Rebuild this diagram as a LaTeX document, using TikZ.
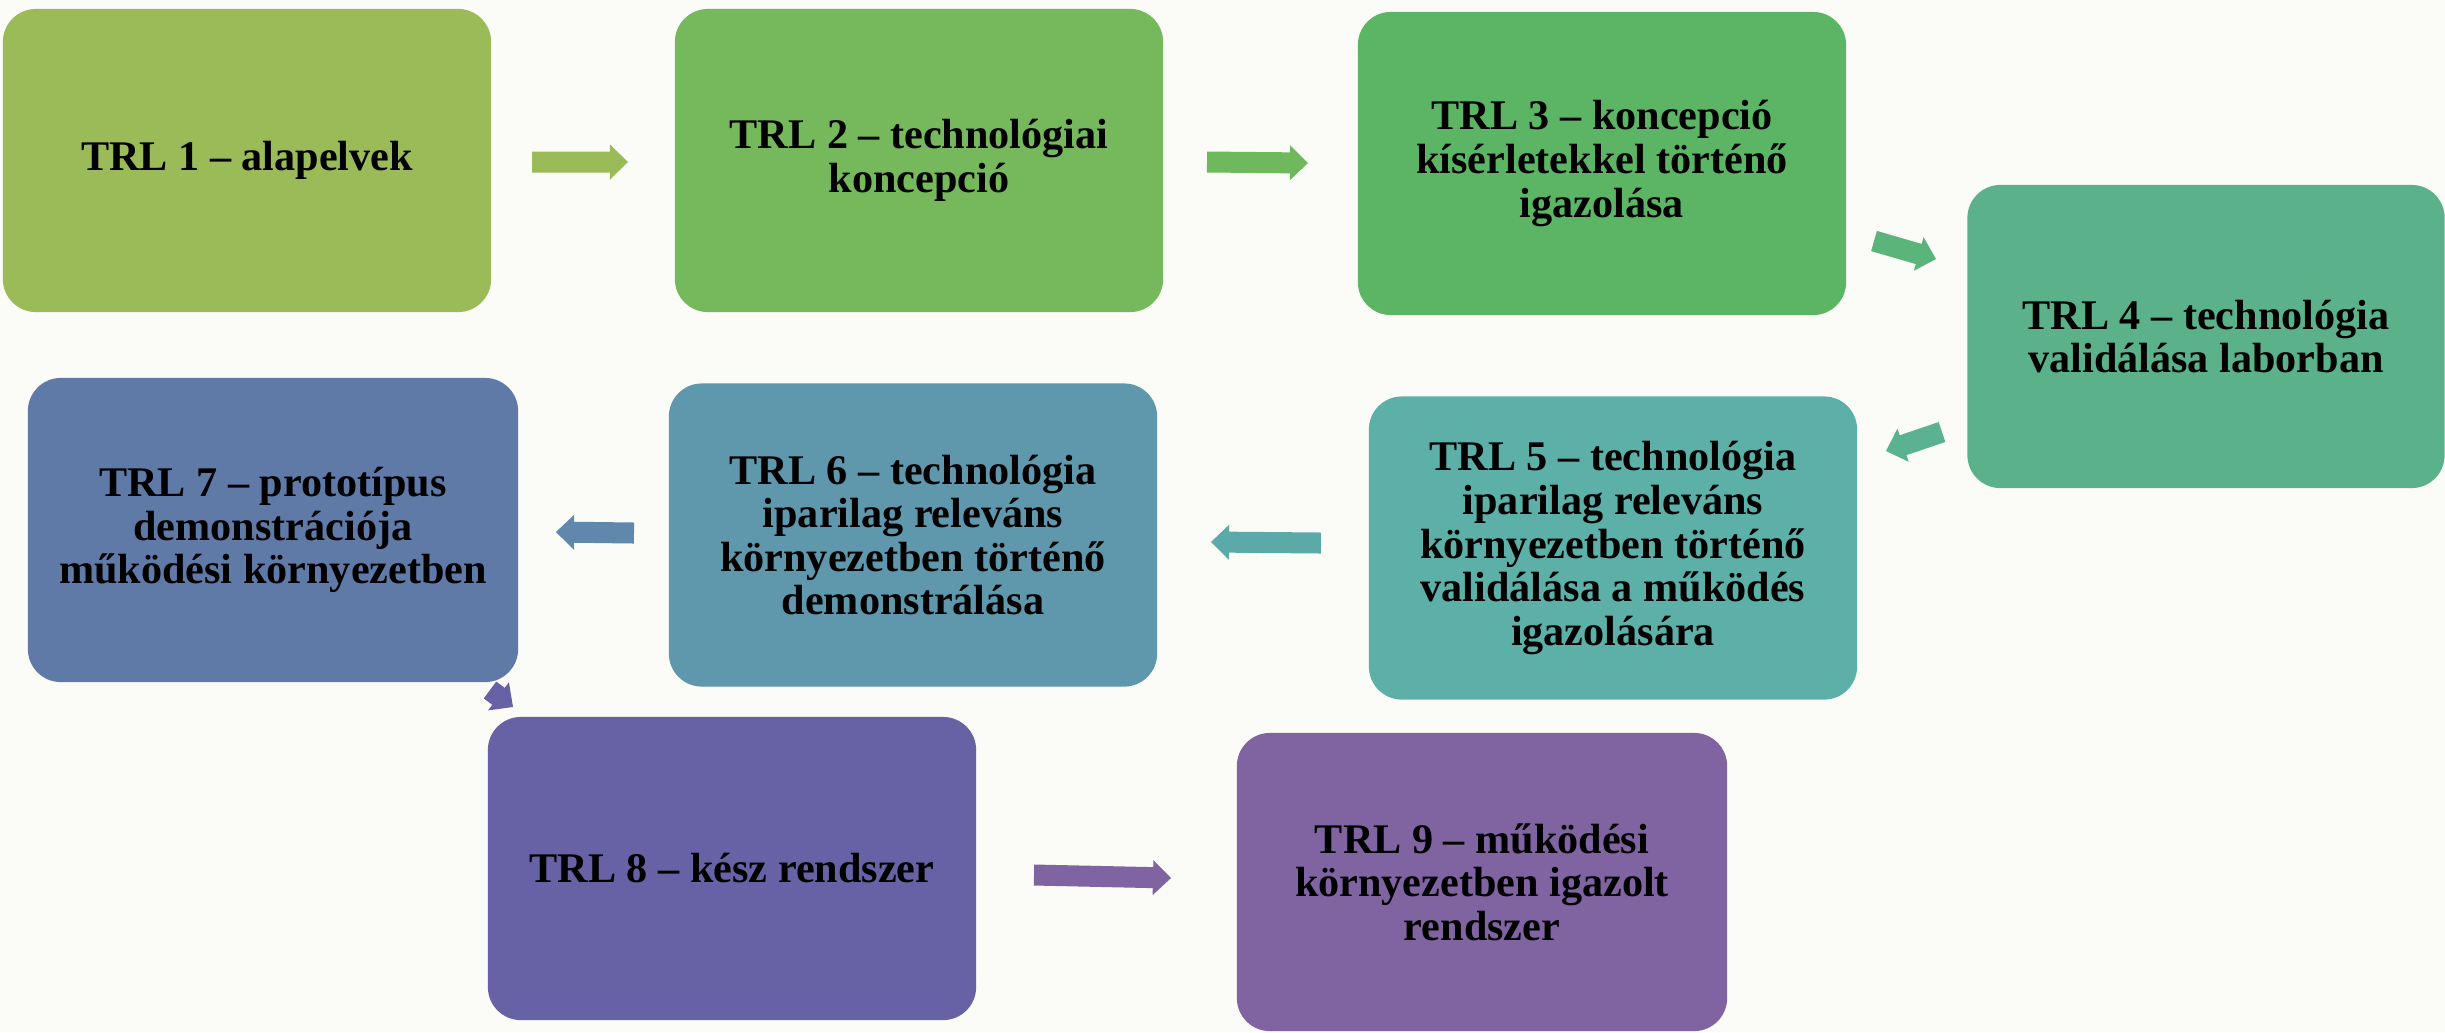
\documentclass[tikz,border=0pt]{standalone}
\usepackage{fontspec}
\setmainfont{Liberation Serif}
\usetikzlibrary{calc}
\definecolor{bg}{HTML}{FBFCF7}
\definecolor{c1}{HTML}{9BBB59}
\definecolor{c2}{HTML}{76B85C}
\definecolor{c3}{HTML}{5CB565}
\definecolor{c4}{HTML}{5BB28A}
\definecolor{c5}{HTML}{5CB0A8}
\definecolor{c6}{HTML}{5F97AD}
\definecolor{c7}{HTML}{607AA8}
\definecolor{c8}{HTML}{6662A5}
\definecolor{c9}{HTML}{8064A2}
\definecolor{a2}{HTML}{70B85D}
\definecolor{a3}{HTML}{5BB47A}
\definecolor{a4}{HTML}{5BB292}
\definecolor{a5}{HTML}{5CA9AA}
\definecolor{a6}{HTML}{5F88AC}
\newcommand\blockarrow[3]{%
  \coordinate (#2-h) at ($(#3)!0.18cm!(#2)$);
  \fill[#1] ($(#2)!0.105cm!90:(#3)$) -- ($(#2-h)!0.105cm!90:(#3)$) -- ($(#2-h)!0.175cm!90:(#3)$) -- (#3) -- ($(#2-h)!0.175cm!-90:(#3)$) -- ($(#2-h)!0.105cm!-90:(#3)$) -- ($(#2)!0.105cm!-90:(#3)$) -- cycle;
}
\tikzset{
  trlbox/.style={rectangle, rounded corners=0.33cm, inner sep=0pt, minimum width=4.88cm, minimum height=3.03cm, fill=#1, align=center, font=\fontsize{12pt}{12.4pt}\selectfont\bfseries, text=black},
}
\begin{document}
\begin{tikzpicture}[x=0.01cm,y=-0.01cm]
\fill[bg] (0,0) rectangle (2445,1032);
\useasboundingbox (0,0) rectangle (2445,1032);

\node[trlbox=c1] (b1) at (247,160.5) {TRL 1 – alapelvek};
\node[trlbox=c2] (b2) at (919,160.5) {TRL 2 – technológiai\\koncepció};
\node[trlbox=c3] (b3) at (1602,163.5) {TRL 3 – koncepció\\kísérletekkel történő\\igazolása};
\node[trlbox=c4, minimum width=4.77cm] (b4) at (2206,336.5) {TRL 4 – technológia\\validálása laborban};
\node[trlbox=c5] (b5) at (1613,548) {TRL 5 – technológia\\iparilag releváns\\környezetben történő\\validálása a működés\\igazolására};
\node[trlbox=c6] (b6) at (913,535) {TRL 6 – technológia\\iparilag releváns\\környezetben történő\\demonstrálása};
\node[trlbox=c7, minimum width=4.9cm, minimum height=3.04cm] (b7) at (273,530) {TRL 7 – prototípus\\demonstrációja\\működési környezetben};
\node[trlbox=c8] (b8) at (732,868.5) {TRL 8 – kész rendszer};
\node[trlbox=c9, minimum width=4.9cm, minimum height=2.98cm] (b9) at (1482,882) {TRL 9 – működési\\környezetben igazolt\\rendszer};

\coordinate (t1) at (532,162);  \coordinate (p1) at (628,162);
\coordinate (t2) at (1207,162); \coordinate (p2) at (1308,163);
\coordinate (t3) at (1874,241); \coordinate (p3) at (1936,259);
\coordinate (t4) at (1942,432); \coordinate (p4) at (1886,451);
\coordinate (t5) at (1321,543); \coordinate (p5) at (1211,542);
\coordinate (t6) at (634,533);  \coordinate (p6) at (556,532);
\coordinate (t7) at (490,690);  \coordinate (p7) at (513,707);
\coordinate (t8) at (1034,875); \coordinate (p8) at (1171,878);

\blockarrow{c1}{t1}{p1}
\blockarrow{a2}{t2}{p2}
\blockarrow{a3}{t3}{p3}
\blockarrow{a4}{t4}{p4}
\blockarrow{a5}{t5}{p5}
\blockarrow{a6}{t6}{p6}
\blockarrow{c8}{t7}{p7}
\blockarrow{c9}{t8}{p8}
\end{tikzpicture}
\end{document}
